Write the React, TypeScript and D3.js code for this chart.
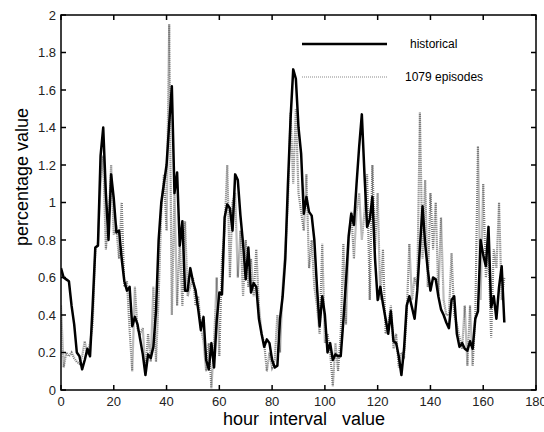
import React from "react";
import * as d3 from "d3";

const hours: number[] = Array.from({ length: 169 }, (_, i) => i);

const historical: number[] = [
  0.65, 0.60, 0.59, 0.58, 0.45, 0.35, 0.20, 0.18, 0.11, 0.16,
  0.22, 0.18, 0.45, 0.76, 0.77, 1.25, 1.40, 1.05, 0.80, 1.15,
  1.02, 0.84, 0.85, 0.70, 0.58, 0.53, 0.55, 0.34, 0.39, 0.35,
  0.27, 0.19, 0.08, 0.19, 0.17, 0.23, 0.42, 0.80, 1.00, 1.10,
  1.20, 1.42, 1.62, 1.05, 1.16, 0.77, 0.90, 0.53, 0.53, 0.65,
  0.58, 0.53, 0.43, 0.32, 0.39, 0.16, 0.11, 0.25, 0.12, 0.37,
  0.52, 0.51, 0.92, 0.99, 0.97, 0.85, 1.15, 1.12, 0.93, 0.78,
  0.59, 0.76, 0.52, 0.57, 0.55, 0.38, 0.30, 0.23, 0.27, 0.25,
  0.16, 0.12, 0.13, 0.38, 0.50, 0.70, 1.10, 1.45, 1.71, 1.66,
  1.40, 1.26, 0.94, 1.03, 0.95, 0.93, 0.80, 0.55, 0.34, 0.50,
  0.40, 0.20, 0.25, 0.16, 0.19, 0.18, 0.18, 0.37, 0.58, 0.82,
  0.94, 0.88, 1.10, 1.30, 1.47, 1.15, 0.87, 0.91, 1.03, 0.70,
  0.48, 0.55, 0.46, 0.38, 0.30, 0.42, 0.26, 0.25, 0.18, 0.08,
  0.22, 0.45, 0.50, 0.44, 0.38, 0.53, 0.76, 0.98, 0.78, 0.64,
  0.53, 0.60, 0.59, 0.50, 0.43, 0.40, 0.36, 0.33, 0.48, 0.50,
  0.30, 0.23, 0.25, 0.22, 0.21, 0.26, 0.22, 0.38, 0.42, 0.80,
  0.72, 0.66, 0.87, 0.44, 0.50, 0.38, 0.55, 0.66, 0.36,
];

const episodes: number[] = [
  0.45, 0.12, 0.20, 0.18, 0.20, 0.17, 0.15, 0.14, 0.18, 0.26,
  0.19, 0.25, 0.35, 0.75, 0.78, 1.10, 1.25, 0.75, 0.90, 1.20,
  0.83, 0.86, 0.70, 1.00, 0.55, 0.58, 0.32, 0.10, 0.55, 0.32,
  0.30, 0.33, 0.10, 0.30, 0.15, 0.55, 0.15, 0.50, 0.95, 1.15,
  0.85, 1.95, 0.40, 1.05, 0.45, 0.80, 0.45, 0.90, 0.50, 0.55,
  0.60, 0.45, 0.50, 0.33, 0.26, 0.10, 0.25, 0.01, 0.25, 0.60,
  0.18, 0.70, 0.85, 1.20, 0.60, 1.00, 1.05, 0.60, 0.85, 0.50,
  0.80, 0.55, 0.70, 0.50, 0.75, 0.45, 0.30, 0.25, 0.10, 0.20,
  0.12, 0.16, 0.40, 0.20, 0.55, 0.75, 1.00, 1.48, 1.10, 1.50,
  1.05, 0.95, 0.85, 1.15, 0.65, 0.80, 0.55, 0.45, 0.30, 0.78,
  0.25, 0.30, 0.20, 0.02, 0.25, 0.10, 0.30, 0.78, 0.35, 0.80,
  0.95, 0.70, 0.95, 1.05, 0.80, 0.95, 1.15, 0.48, 1.20, 0.75,
  1.05, 0.48, 0.75, 0.30, 0.35, 0.45, 0.22, 0.30, 0.12, 0.20,
  0.18, 0.40, 0.78, 0.48, 0.60, 0.55, 1.48, 0.70, 1.12, 0.55,
  1.05, 0.75, 1.00, 0.50, 0.92, 0.48, 0.40, 0.40, 0.73, 0.40,
  0.35, 0.28, 0.22, 0.45, 0.13, 0.45, 0.13, 0.40, 1.30, 0.48,
  1.10, 0.60, 0.73, 0.28, 0.75, 0.65, 1.00, 0.48, 0.60,
];

const xTicks: number[] = [0, 20, 40, 60, 80, 100, 120, 140, 160, 180];
const yTicks: number[] = [0, 0.2, 0.4, 0.6, 0.8, 1, 1.2, 1.4, 1.6, 1.8, 2];

const legendLabels: string[] = ["historical", "1079 episodes"];

export default function App() {
  const W = 544;
  const H = 432;
  const L = 61, R = 536, T = 15, B = 390;
  const x = d3.scaleLinear().domain([0, 180]).range([L, R]);
  const y = d3.scaleLinear().domain([0, 2]).range([B, T]);
  const line = d3
    .line<number>()
    .x((_, i) => x(hours[i]))
    .y((d) => y(d));
  const font = "Arial, 'Liberation Sans', sans-serif";
  const tl = 5;

  return (
    <svg
      width={W}
      height={H}
      style={{ position: "absolute", left: 0, top: 0, background: "#fff" }}
    >
      <rect x={0} y={0} width={W} height={H} fill="#fff" />
      <defs>
        <clipPath id="plotclip">
          <rect x={L} y={T} width={R - L} height={B - T} />
        </clipPath>
      </defs>
      <g clipPath="url(#plotclip)">
        <path
          d={line(episodes) || ""}
          fill="none"
          stroke="#7a7a7a"
          strokeWidth={2.2}
          strokeDasharray="1 1"
        />
        <path
          d={line(historical) || ""}
          fill="none"
          stroke="#000"
          strokeWidth={2.5}
          strokeLinejoin="round"
        />
      </g>
      {/* frame */}
      <rect x={L} y={T} width={R - L} height={B - T} fill="none" stroke="#000" strokeWidth={1.5} />
      {/* x ticks */}
      {xTicks.map((t) => (
        <g key={"x" + t}>
          <line x1={x(t)} x2={x(t)} y1={B} y2={B - tl} stroke="#000" strokeWidth={1.5} />
          <line x1={x(t)} x2={x(t)} y1={T} y2={T + tl} stroke="#000" strokeWidth={1.5} />
          <text
            x={x(t)}
            y={B + 16}
            textAnchor="middle"
            fontFamily={font}
            fontSize={13}
            fill="#222"
          >
            {t}
          </text>
        </g>
      ))}
      {/* y ticks */}
      {yTicks.map((t) => (
        <g key={"y" + t}>
          <line x1={L} x2={L + tl} y1={y(t)} y2={y(t)} stroke="#000" strokeWidth={1.5} />
          <line x1={R} x2={R - tl} y1={y(t)} y2={y(t)} stroke="#000" strokeWidth={1.5} />
          <text
            x={L - 5}
            y={y(t) + 4.5}
            textAnchor="end"
            fontFamily={font}
            fontSize={13}
            fill="#222"
          >
            {String(+t.toFixed(1))}
          </text>
        </g>
      ))}
      {/* axis titles */}
      <text
        x={304}
        y={425}
        textAnchor="middle"
        fontFamily={font}
        fontSize={18}
        fill="#000"
        style={{ whiteSpace: "pre" }}
      >
        {"hour  interval   value"}
      </text>
      <text
        transform={`translate(28,177) rotate(-90)`}
        textAnchor="middle"
        fontFamily={font}
        fontSize={18}
        fill="#000"
      >
        percentage value
      </text>
      {/* legend */}
      <line x1={302} x2={387} y1={44} y2={44} stroke="#000" strokeWidth={2.5} />
      <text x={410} y={48} fontFamily={font} fontSize={12} fill="#000">
        {legendLabels[0]}
      </text>
      <line
        x1={302}
        x2={387}
        y1={77}
        y2={77}
        stroke="#8a8a8a"
        strokeWidth={1.2}
        strokeDasharray="1 1"
      />
      <text x={405} y={81} fontFamily={font} fontSize={12} fill="#000">
        {legendLabels[1]}
      </text>
    </svg>
  );
}
